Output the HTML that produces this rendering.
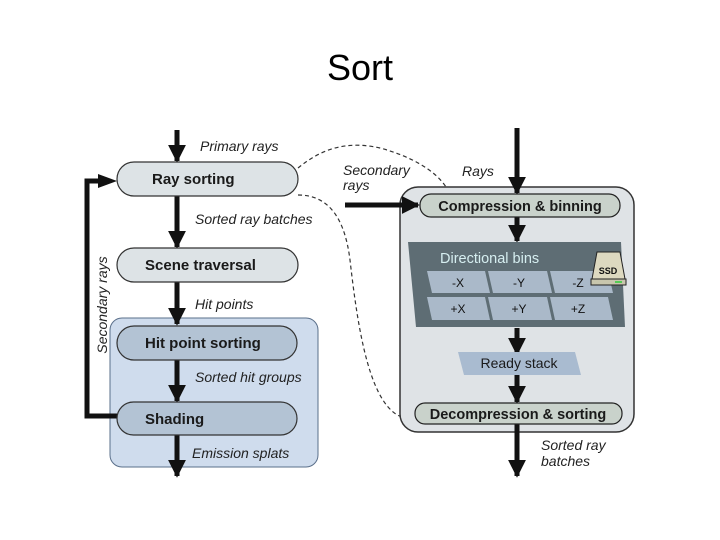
<!DOCTYPE html>
<html><head><meta charset="utf-8"><style>
body{margin:0;background:#fff;}
svg{display:block;font-family:"Liberation Sans",sans-serif;}
</style></head><body>
<svg width="720" height="540" viewBox="0 0 720 540" xmlns="http://www.w3.org/2000/svg">
<defs>
<marker id="ah" viewBox="0 0 10 10" refX="9" refY="5" markerWidth="3.6" markerHeight="3.6" orient="auto"><path d="M0,0 L10,5 L0,10 z" fill="#111"/></marker>
</defs>
<text x="360" y="80" text-anchor="middle" font-size="36" fill="#000">Sort</text>

<rect x="110" y="318" width="208" height="149" rx="12" fill="#cfdced" stroke="#5a6f8a" stroke-width="1"/>

<g stroke="#111" stroke-width="5" marker-end="url(#ah)">
<line x1="177" y1="130" x2="177" y2="161"/>
<line x1="177" y1="196" x2="177" y2="247"/>
<line x1="177" y1="282" x2="177" y2="324"/>
<line x1="177" y1="360" x2="177" y2="401"/>
<line x1="177" y1="435" x2="177" y2="476"/>
</g>
<polyline points="117,416 87,416 87,181 100,181" fill="none" stroke="#111" stroke-width="5"/>
<path d="M98,174 L117,181 L98,188 z" fill="#111"/>
<text transform="translate(107,305) rotate(-90)" text-anchor="middle" font-size="14" font-style="italic" fill="#222">Secondary rays</text>

<g stroke="#333" stroke-width="1.2">
<rect x="117" y="162" width="181" height="34" rx="17" fill="#dde3e6"/>
<rect x="117" y="248" width="181" height="34" rx="17" fill="#dde3e6"/>
<rect x="117" y="326" width="180" height="34" rx="17" fill="#b3c3d4"/>
<rect x="117" y="402" width="180" height="33" rx="16.5" fill="#b3c3d4"/>
</g>
<g font-size="15" font-weight="bold" fill="#1a1a1a">
<text x="152" y="184">Ray sorting</text>
<text x="145" y="270">Scene traversal</text>
<text x="145" y="348">Hit point sorting</text>
<text x="145" y="424">Shading</text>
</g>
<g font-size="14" font-style="italic" fill="#222">
<text x="200" y="151">Primary rays</text>
<text x="195" y="224">Sorted ray batches</text>
<text x="195" y="309">Hit points</text>
<text x="195" y="382">Sorted hit groups</text>
<text x="192" y="458">Emission splats</text>
<text x="343" y="175">Secondary</text>
<text x="343" y="190">rays</text>
<text x="462" y="176">Rays</text>
<text x="541" y="450">Sorted ray</text>
<text x="541" y="466">batches</text>
</g>

<path d="M298,168 C320,150 345,140 380,148 C410,156 435,170 446,187" fill="none" stroke="#333" stroke-width="1.2" stroke-dasharray="4,3"/>
<path d="M298,195 C330,195 345,220 350,260 C358,330 370,410 405,418" fill="none" stroke="#333" stroke-width="1.2" stroke-dasharray="4,3"/>

<rect x="400" y="187" width="234" height="245" rx="18" fill="#dfe3e6" stroke="#333" stroke-width="1.5"/>
<g stroke="#111" stroke-width="5" marker-end="url(#ah)">
<line x1="517" y1="128" x2="517" y2="193"/>
<line x1="345" y1="205" x2="418" y2="205"/>
<line x1="517" y1="217" x2="517" y2="241"/>
<line x1="517" y1="328" x2="517" y2="354"/>
<line x1="517" y1="375" x2="517" y2="402"/>
<line x1="517" y1="424" x2="517" y2="476"/>
</g>
<rect x="420" y="194" width="200" height="23" rx="11" fill="#c9d2cb" stroke="#222" stroke-width="1.2"/>
<text x="520" y="211" text-anchor="middle" font-size="14.5" font-weight="bold" fill="#1a1a1a">Compression &amp; binning</text>

<polygon points="408,242 621,242 625,327 416,327" fill="#5e6d74"/>
<text x="440" y="263" font-size="14.5" fill="#d6eef0">Directional bins</text>
<g fill="#aab9c9">
<polygon points="427,271 485,271 490,293 432,293"/>
<polygon points="488,271 547,271 552,293 493,293"/>
<polygon points="550,271 608,271 613,293 555,293"/>
<polygon points="427,297 485,297 490,320 432,320"/>
<polygon points="488,297 547,297 552,320 493,320"/>
<polygon points="550,297 608,297 613,320 555,320"/>
</g>
<g font-size="12" fill="#111" text-anchor="middle">
<text x="458" y="287">-X</text><text x="519" y="287">-Y</text><text x="578" y="287">-Z</text>
<text x="458" y="313">+X</text><text x="519" y="313">+Y</text><text x="578" y="313">+Z</text>
</g>
<polygon points="597,252 620,252 625,279 592,279" fill="#ddd9c0" stroke="#222" stroke-width="1"/>
<rect x="591" y="279" width="35" height="6" fill="#c8c6ad" stroke="#222" stroke-width="1"/>
<rect x="615" y="281" width="7" height="2" fill="#5c5"/>
<text x="608" y="274" text-anchor="middle" font-size="9" font-weight="bold" fill="#111">SSD</text>

<polygon points="458,352 575,352 581,375 464,375" fill="#a9bbd0"/>
<text x="519" y="368" text-anchor="middle" font-size="14" fill="#1a1a1a">Ready stack</text>

<rect x="415" y="403" width="207" height="21" rx="10" fill="#c9d2cb" stroke="#222" stroke-width="1.2"/>
<text x="518" y="419" text-anchor="middle" font-size="14.5" font-weight="bold" fill="#1a1a1a">Decompression &amp; sorting</text>
</svg>
</body></html>
